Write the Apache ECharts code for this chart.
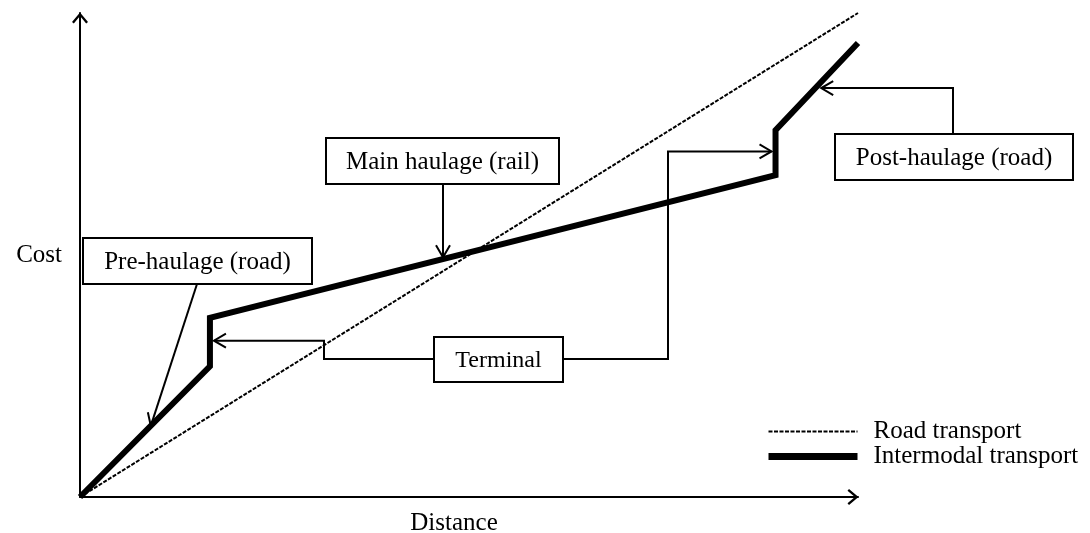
<!DOCTYPE html>
<html>
<head>
<meta charset="utf-8">
<script src="https://cdn.jsdelivr.net/npm/echarts@6/dist/echarts.min.js"></script>
<style>
  html, body { margin: 0; padding: 0; background: #fff; }
  #chart { width: 1090px; height: 533px; }
</style>
</head>
<body>
<div id="chart"></div>
<script>
// schematic cost curves, distance / cost in arbitrary units 0..100
const seriesNames = ["Road transport", "Intermodal transport"];
const roadX = [0, 100];
const roadY = [0, 100];
const intermodalX = [0, 16.7, 16.7, 89.4, 89.4, 100];
const intermodalY = [0, 27, 37, 66.5, 75.8, 93.8];

const FONT = '"Liberation Serif", "Times New Roman", serif';
const arrowPath = "path://M8,0 L16,9.5 L14.2,11 L8,3.6 L1.8,11 L0,9.5 Z";

const chart = echarts.init(document.getElementById("chart"));

const axisCommon = {
  type: "value",
  min: 0,
  max: 100,
  splitLine: { show: false },
  axisTick: { show: false },
  axisLabel: { show: false },
  axisLine: {
    show: true,
    symbol: ["none", arrowPath],
    symbolSize: [16, 11],
    symbolOffset: [0, -5],
    lineStyle: { color: "#000", width: 2 },
  },
  nameTextStyle: { fontFamily: FONT, fontSize: 25, color: "#000" },
};

const roadLine = { color: "#000", width: 2, type: [4, 1.5] };
const interLine = { color: "#000", width: 6, join: "miter", cap: "butt" };

chart.setOption({
  animation: false,
  backgroundColor: "#fff",
  grid: { left: 80, top: 13, right: 232, bottom: 36, outerBoundsMode: "none", containLabel: false },
  xAxis: Object.assign({}, axisCommon, {
    name: "Distance",
    nameLocation: "middle",
    nameGap: 14,
    nameTextStyle: Object.assign({}, axisCommon.nameTextStyle, { padding: [0, 30, 0, 0] }),
  }),
  yAxis: Object.assign({}, axisCommon, {
    name: "Cost",
    nameLocation: "middle",
    nameRotate: 0,
    nameGap: 18,
  }),
  legend: {
    orient: "vertical",
    left: 765,
    top: 419,
    padding: 0,
    itemWidth: 89,
    itemHeight: 14,
    itemGap: 0,
    textStyle: { fontFamily: FONT, fontSize: 25, lineHeight: 24, color: "#000", padding: [0, 0, 0, 11] },
    data: [
      { name: seriesNames[0], itemStyle: { opacity: 0 }, lineStyle: Object.assign({}, roadLine) },
      { name: seriesNames[1], itemStyle: { opacity: 0 }, lineStyle: { color: "#000", width: 7, type: "solid" } },
    ],
  },
  series: [
    {
      name: seriesNames[0],
      type: "line",
      data: roadX.map((x, i) => [x, roadY[i]]),
      symbol: "none",
      lineStyle: roadLine,
      itemStyle: { color: "#000" },
      z: 3,
    },
    {
      name: seriesNames[1],
      type: "line",
      data: intermodalX.map((x, i) => [x, intermodalY[i]]),
      symbol: "none",
      lineStyle: interLine,
      itemStyle: { color: "#000" },
      z: 4,
    },
  ],
});

// annotations: boxes in pixels, arrow tips anchored to data positions
const px = (p) => chart.convertToPixel({ gridIndex: 0 }, p);

function arrowHead(from, tip) {
  const dx = tip[0] - from[0], dy = tip[1] - from[1];
  const len = Math.sqrt(dx * dx + dy * dy);
  const ux = dx / len, uy = dy / len;
  const L = 12, W = 7;
  return [
    [tip[0] - L * ux + W * uy, tip[1] - L * uy - W * ux],
    tip,
    [tip[0] - L * ux - W * uy, tip[1] - L * uy + W * ux],
  ];
}

function box(x, y, w, h, text, size) {
  return [
    { type: "rect", z: 20, shape: { x: x, y: y, width: w, height: h },
      style: { fill: "#fff", stroke: "#000", lineWidth: 2 } },
    { type: "text", z: 21, x: x + w / 2, y: y + h / 2 + 1,
      style: { text: text, font: (size || 25) + "px " + FONT, fill: "#000", align: "center", verticalAlign: "middle" } },
  ];
}

function connector(points) {
  const n = points.length;
  return [
    { type: "polyline", z: 15, shape: { points: points },
      style: { stroke: "#000", lineWidth: 2, fill: null } },
    { type: "polyline", z: 15, shape: { points: arrowHead(points[n - 2], points[n - 1]) },
      style: { stroke: "#000", lineWidth: 2, fill: null } },
  ];
}

const preTip = px([9.1, 14.7]);
const mainTip = px([46.6, 49.1]);
const term1 = px([16.7, 32.3]);
const term2 = px([89.4, 71.4]);
const postTip = px([94.5, 84.5]);

const g = [].concat(
  connector([[197, 284], preTip]),
  box(83, 238, 229, 46, "Pre-haulage (road)"),
  connector([[443, 184], [443, mainTip[1] - 2]]),
  box(326, 138, 233, 46, "Main haulage (rail)"),
  connector([[434, 359], [324, 359], [324, term1[1]], [term1[0] + 4, term1[1]]]),
  connector([[563, 359], [668, 359], [668, term2[1]], [term2[0] - 4, term2[1]]]),
  box(434, 337, 129, 45, "Terminal", 24),
  connector([[953, 134], [953, postTip[1]], [postTip[0] + 6, postTip[1]]]),
  box(835, 134, 238, 46, "Post-haulage (road)")
);

chart.setOption({ graphic: g });
</script>
</body>
</html>
